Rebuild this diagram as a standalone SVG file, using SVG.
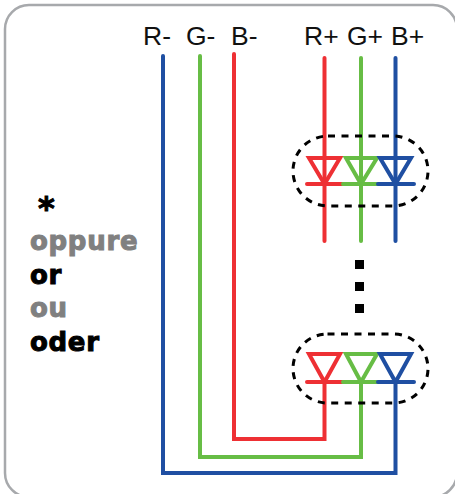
<svg xmlns="http://www.w3.org/2000/svg" width="455" height="494" viewBox="0 0 455 494">
<style>
.w{fill:none;stroke-width:4;stroke-linejoin:miter}
.c{stroke-linecap:round}
.r{stroke:#ee3034}.g{stroke:#67bd45}.b{stroke:#1f4fa2}
.t{font-family:"Liberation Sans",Arial,sans-serif;font-size:26.500px;fill:#111}
.h{font-family:"DejaVu Sans",sans-serif;font-weight:700;font-size:26px;stroke-width:1;letter-spacing:.7px}
.k{fill:#000;stroke:#000}.y{fill:#808080;stroke:#808080}
.d{fill:none;stroke:#000;stroke-width:3;stroke-dasharray:7 6.5}
</style>
<rect id="frame" x="5" y="5" width="452" height="492" rx="24" fill="#fff" stroke="#a7a9ac" stroke-width="2.5"/>
<g id="connectors">
<path class="w c b" d="M163 56V473H395.500V382"/>
<path class="w c g" d="M200 56V457H361V382"/>
<path class="w c r" d="M234 54V439H324.500V382"/>
<path class="w c r" d="M324.500 58V241"/>
<path class="w c g" d="M361 58V241"/>
<path class="w c b" d="M395.500 58V241"/>
</g>
<g id="led-top">
<rect x="293" y="136" width="135" height="70" rx="35" class="d"/>
<path class="w c r" d="M309 158H340L324.500 184ZM307 184H342"/>
<path class="w c g" d="M346 158H377L361 184ZM343 184H378"/>
<path class="w c b" d="M380 158H411L395.500 184ZM378 184H414"/>
</g>
<g id="led-bottom">
<rect x="293" y="334" width="135" height="69" rx="34.500" class="d"/>
<path class="w c r" d="M309 354H340L324.500 382ZM307 382H342"/>
<path class="w c g" d="M346 354H377L361 382ZM343 382H378"/>
<path class="w c b" d="M380 354H411L395.500 382ZM378 382H414"/>
</g>
<g id="dots" fill="#000">
<rect x="355" y="260" width="9" height="9"/>
<rect x="355" y="282" width="9" height="9"/>
<rect x="355" y="304" width="9" height="9"/>
</g>
<g id="labels">
<text class="t" x="143" y="45">R-</text>
<text class="t" x="186" y="45">G-</text>
<text class="t" x="231" y="45">B-</text>
<text class="t" x="304" y="45">R+</text>
<text class="t" x="347" y="45">G+</text>
<text class="t" x="391" y="45">B+</text>
<text class="h k" x="38" y="219" style="font-size:32px">*</text>
<text class="h y" x="30" y="250">oppure</text>
<text class="h k" x="30" y="284">or</text>
<text class="h y" x="30" y="317">ou</text>
<text class="h k" x="30" y="351">oder</text>
</g>
</svg>
